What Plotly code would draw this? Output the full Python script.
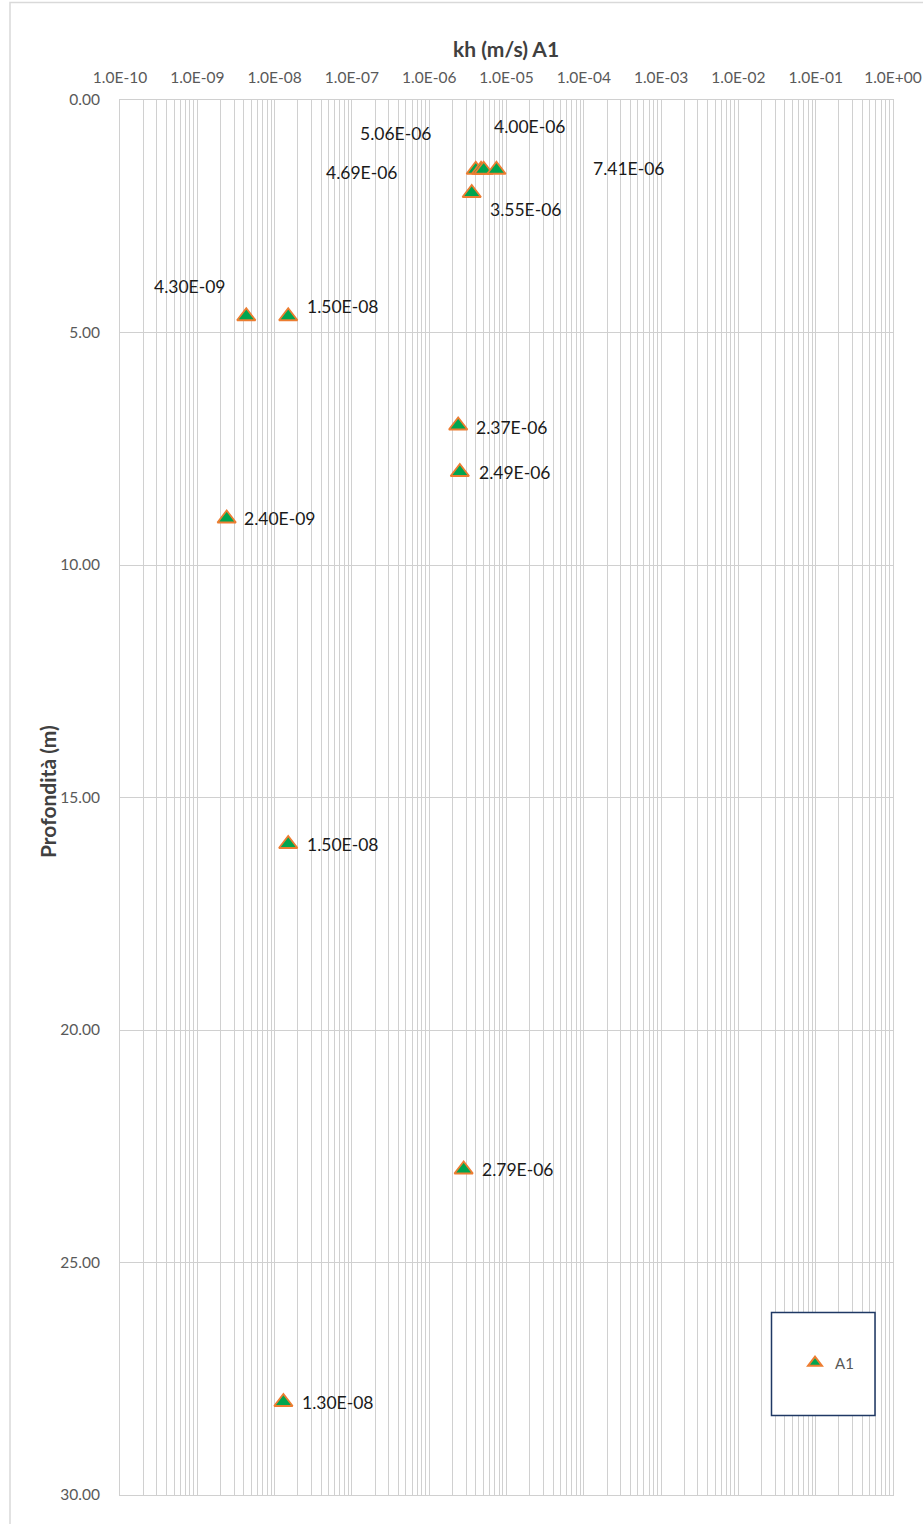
import math
import plotly.graph_objects as go

# Permeability tests, borehole A1
kh = [4.00e-06, 4.69e-06, 5.06e-06, 7.41e-06, 3.55e-06,
      4.30e-09, 1.50e-08, 2.37e-06, 2.49e-06, 2.40e-09,
      1.50e-08, 2.79e-06, 1.30e-08]
depth = [1.5, 1.5, 1.5, 1.5, 2.0,
         4.65, 4.65, 7.0, 8.0, 9.0,
         16.0, 23.0, 28.0]
point_labels = ["4.00E-06", "4.69E-06", "5.06E-06", "7.41E-06", "3.55E-06",
                "4.30E-09", "1.50E-08", "2.37E-06", "2.49E-06", "2.40E-09",
                "1.50E-08", "2.79E-06", "1.30E-08"]
# pixel offsets of each data label from its marker (dx right, dy up)
label_shift = [(54, 43), (-119, -3), (-88, 36), (133, 1), (54, -16),
               (-56, 30), (55, 10), (54, -2), (55, 0), (53, 0),
               (55, 0), (54, 0), (55, 0)]

x_ticks = [10.0 ** e for e in range(-10, 1)]
x_tick_text = ["1.0E-10", "1.0E-09", "1.0E-08", "1.0E-07", "1.0E-06", "1.0E-05",
               "1.0E-04", "1.0E-03", "1.0E-02", "1.0E-01", "1.0E+00"]
y_ticks = [0, 5, 10, 15, 20, 25, 30]
y_tick_text = ["0.00", "5.00", "10.00", "15.00", "20.00", "25.00", "30.00"]

minor_vals = [m * 10.0 ** e for e in range(-10, 0) for m in range(2, 10)]

FONT = "Lato, Calibri, Carlito, sans-serif"
GRID = "#d0d0d0"
W, H = 923, 1524
L, R, T, B = 120, 30, 100, 29
pw, ph = W - L - R, H - T - B

fig = go.Figure()
fig.add_trace(go.Scatter(
    x=kh, y=depth, mode="markers", name="A1",
    marker=dict(symbol="triangle-up", size=16, color="#00A550",
                line=dict(color="#ED7D31", width=1.8)),
    hoverinfo="x+y",
))

for xv, yv, txt, (dx, dy) in zip(kh, depth, point_labels, label_shift):
    fig.add_annotation(x=math.log10(xv), y=yv, xref="x", yref="y", text=txt,
                       showarrow=False, xshift=dx, yshift=dy,
                       font=dict(family=FONT, size=17.5, color="#1a1a1a"))


def px_x(p):
    return (p - L) / pw


def px_y(p):
    return 1 - (p - T) / ph


# chart frame
fig.add_shape(type="rect", xref="paper", yref="paper",
              x0=px_x(10), x1=px_x(W + 20), y0=px_y(H + 20), y1=px_y(2.5),
              line=dict(color="#d9d9d9", width=1.5), fillcolor="rgba(0,0,0,0)",
              layer="below")
# legend frame
fig.add_shape(type="rect", xref="paper", yref="paper",
              x0=px_x(771.5), x1=px_x(875), y0=px_y(1415.5), y1=px_y(1312.5),
              line=dict(color="#1f3864", width=1.5), fillcolor="white",
              layer="above")

# axis titles
fig.add_annotation(x=px_x(506), y=px_y(48), xref="paper", yref="paper",
                   xanchor="center", yanchor="middle",
                   text="<b>kh (m/s) A1</b>", showarrow=False,
                   font=dict(family=FONT, size=21, color="#404040"))
fig.add_annotation(x=px_x(47), y=px_y(792), xref="paper", yref="paper",
                   xanchor="center", yanchor="middle",
                   text="<b>Profondità (m)</b>", showarrow=False, textangle=-90,
                   font=dict(family=FONT, size=21, color="#404040"))

axis_font = dict(family=FONT, size=15.5, color="#595959")
fig.update_xaxes(
    type="log", side="top", range=[-10, 0], automargin=False,
    tickmode="array", tickvals=x_ticks, ticktext=x_tick_text,
    tickfont=axis_font, ticks="", ticklabelstandoff=10,
    showgrid=True, gridcolor=GRID, gridwidth=1,
    minor=dict(tickmode="array", tickvals=minor_vals, showgrid=True,
               gridcolor=GRID, gridwidth=1, ticks=""),
    showline=True, linecolor=GRID, mirror=True, zeroline=False,
)
fig.update_yaxes(
    range=[30, 0], automargin=False,
    tickmode="array", tickvals=y_ticks, ticktext=y_tick_text,
    tickfont=axis_font, ticks="", ticklabelstandoff=16,
    showgrid=True, gridcolor=GRID, gridwidth=1,
    showline=True, linecolor=GRID, mirror=True, zeroline=False,
)

fig.update_layout(
    width=W, height=H, margin=dict(l=L, r=R, t=T, b=B, autoexpand=False),
    paper_bgcolor="white", plot_bgcolor="white",
    showlegend=True,
    legend=dict(x=px_x(795), y=px_y(1363), xanchor="left", yanchor="middle",
                bgcolor="rgba(0,0,0,0)", borderwidth=0, itemsizing="constant",
                itemwidth=30, tracegroupgap=0,
                font=dict(family=FONT, size=15, color="#595959")),
)

fig.write_html("out.html")
